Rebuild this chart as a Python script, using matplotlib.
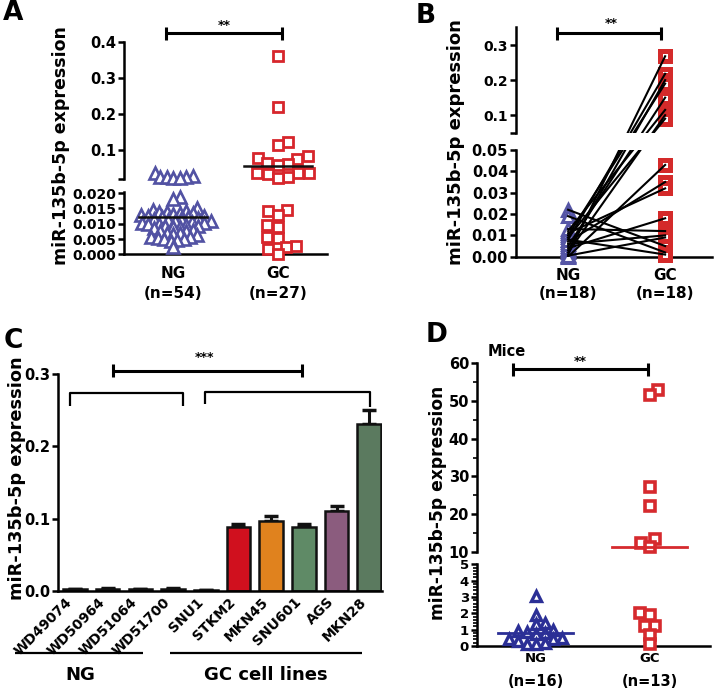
import numpy as np
import matplotlib
matplotlib.use("Agg")
import matplotlib.pyplot as plt
from matplotlib.lines import Line2D
from matplotlib.ticker import MultipleLocator

# ---------------- data ----------------
# Panel A (scatter, n=54 vs n=27)
a_ng = [0.037, 0.028, 0.026, 0.025, 0.024, 0.022, 0.022,
        0.0186, 0.0180,
        0.0151, 0.0146, 0.0143, 0.0140, 0.0139, 0.0136, 0.0134, 0.0131,
        0.0128, 0.0127, 0.0124, 0.0122, 0.0121, 0.0118, 0.0116, 0.0115, 0.0112, 0.0110, 0.0109, 0.0106,
        0.0104, 0.0103, 0.0100, 0.0098, 0.0097, 0.0094, 0.0092, 0.0091, 0.0088, 0.0085,
        0.0081, 0.0077, 0.0075, 0.0071, 0.0069, 0.0065, 0.0062,
        0.0058, 0.0056, 0.0052, 0.0050, 0.0049, 0.0046, 0.0044,
        0.0024]
a_gc = [0.359, 0.219, 0.123, 0.114, 0.082, 0.079, 0.076, 0.063, 0.061, 0.059,
        0.036, 0.034, 0.035, 0.037, 0.024, 0.022,
        0.0145, 0.0142, 0.0128, 0.0097, 0.0091, 0.0058, 0.0053, 0.0027, 0.0025, 0.0017, 0.0002]
a_xlabels = ["NG\n(n=54)", "GC\n(n=27)"]

# Panel B (paired samples, n=18)
b_ng = [0.001, 0.008, 0.003, 0.010, 0.005, 0.012, 0.002, 0.009, 0.000,
        0.007, 0.011, 0.004, 0.013, 0.006, 0.0005, 0.022, 0.019, 0.008]
b_gc = [0.268, 0.218, 0.200, 0.190, 0.150, 0.115, 0.100, 0.090, 0.043,
        0.035, 0.032, 0.018, 0.012, 0.010, 0.009, 0.005, 0.002, 0.001]
b_xlabels = ["NG\n(n=18)", "GC\n(n=18)"]

# Panel C (cell lines)
c_labels = ["WD49074", "WD50964", "WD51064", "WD51700", "SNU1",
            "STKM2", "MKN45", "SNU601", "AGS", "MKN28"]
c_vals = [0.002, 0.003, 0.002, 0.003, 0.001, 0.089, 0.096, 0.088, 0.111, 0.231]
c_err = [0.0005, 0.0005, 0.0005, 0.0005, 0.0003, 0.003, 0.007, 0.005, 0.007, 0.020]
c_colors = ["#111111"] * 5 + ["#d0101e", "#e0821e", "#5f8a66", "#8b5c7e", "#5b7a5f"]

# Panel D (mice)
d_ng = [3.05, 1.9, 1.4, 1.35, 1.0, 0.9, 0.85, 0.8, 0.75, 0.5, 0.45, 0.4, 0.3, 0.2, 0.1, 0.1]
d_gc = [53.0, 51.6, 27.3, 22.0, 13.3, 12.4, 11.2, 2.0, 1.9, 1.2, 1.2, 0.7, 0.1]
d_xlabels = ["NG\n(n=16)", "GC\n(n=13)"]

YLABEL = "miR-135b-5p expression"

# ---------------- style ----------------
W, H = 714, 692
plt.rcParams["font.family"] = ["DejaVu Sans"]
plt.rcParams["font.weight"] = "bold"
LW = 1.8
fig = plt.figure(figsize=(W / 100, H / 100), dpi=100)


def add_ax(x0, y0, x1, y1, bottom=True):
    ax = fig.add_axes([x0 / W, 1 - y1 / H, (x1 - x0) / W, (y1 - y0) / H])
    ax.patch.set_alpha(0)
    for s in ["top", "right"]:
        ax.spines[s].set_visible(False)
    ax.spines["left"].set_linewidth(LW)
    ax.spines["bottom"].set_linewidth(LW)
    if not bottom:
        ax.spines["bottom"].set_visible(False)
    ax.tick_params(axis="y", width=LW, length=4.5, pad=1)
    ax.tick_params(axis="x", bottom=False, labelbottom=False)
    return ax


def fline(xs, ys, lw=2.0):
    fig.add_artist(Line2D([x / W for x in xs], [1 - y / H for y in ys],
                          transform=fig.transFigure, color="black", lw=lw,
                          solid_capstyle="butt"))


def ftext(x, y, s, size, **kw):
    fig.text(x / W, 1 - y / H, s, fontsize=size, fontweight="bold",
             ha=kw.pop("ha", "center"), va=kw.pop("va", "center"), **kw)


def sigbar(x0, x1, y, h0, h1, star, sx, sy, size=9):
    fline([x0, x1], [y, y], lw=2.2)
    fline([x0, x0], [h0, h1], lw=2.2)
    fline([x1, x1], [h0, h1], lw=2.2)
    ftext(sx, sy, star, size)


def px_x(ax, x):
    return ax.transData.transform((x, 0))[0]


def swarm_plot(values, xc, ax_up, ax_lo, thr, d, **mk):
    """beeswarm-like placement computed in display pixels"""
    axes = [ax_up if v > thr else ax_lo for v in values]
    ys = np.array([a.transData.transform((xc, v))[1] for a, v in zip(axes, values)])
    offs = np.zeros(len(values))
    placed = []
    for n, i in enumerate(np.argsort(ys)):
        y = ys[i]
        k = 0
        sgn = 1 if n % 2 == 0 else -1
        while True:
            cands = [0.0] if k == 0 else [sgn * k * 0.5, -sgn * k * 0.5]
            found = None
            for c in cands:
                if all((c - px) ** 2 + (y - py) ** 2 >= d * d for px, py in placed):
                    found = c
                    break
            if found is not None:
                break
            k += 1
        offs[i] = found
        placed.append((found, y))
    for a in set(axes):
        ppu = px_x(a, 1) - px_x(a, 0)
        idx = [i for i, b in enumerate(axes) if b is a]
        a.plot([xc + offs[i] / ppu for i in idx], [values[i] for i in idx],
               ls="none", clip_on=False, zorder=3, **mk)


def xlabels(ax, labels, y1, y2, size1, size2):
    for x, lab in zip([1, 2], labels):
        top, bot = lab.split("\n")
        ftext(px_x(ax, x), y1, top, size1)
        ftext(px_x(ax, x), y2, bot, size2)


# ================= Panel A =================
A_BLUE, A_RED = "#5252a3", "#d7262c"
a_up = add_ax(124, 41.7, 327, 179.3, bottom=False)
a_lo = add_ax(124, 192, 327, 254.3)
for ax in (a_up, a_lo):
    ax.set_xlim(0.533, 2.467)
a_up.set_ylim(0.0188, 0.4)
a_lo.set_ylim(0, 0.0204)
a_up.set_yticks([0.0188, 0.1, 0.2, 0.3, 0.4])
a_up.set_yticklabels(["", "0.1", "0.2", "0.3", "0.4"], fontsize=10.5)
a_lo.set_yticks(np.arange(0, 0.0201, 0.005))
a_lo.set_yticklabels(["%.3f" % t for t in np.arange(0, 0.0201, 0.005)], fontsize=10)

swarm_plot(a_ng, 1, a_up, a_lo, 0.0204, 6.5, marker="^", ms=8.5, mfc="white",
           mec=A_BLUE, mew=1.9)
swarm_plot(a_gc, 2, a_up, a_lo, 0.0204, 10.5, marker="s", ms=7, mfc="white",
           mec=A_RED, mew=2.0)
for xc, vals in ((1, a_ng), (2, a_gc)):
    m = float(np.mean(vals))
    ax = a_up if m > 0.0204 else a_lo
    ax.plot([xc - 0.32, xc + 0.32], [m, m], color="#111111", lw=1.8, zorder=4)

xlabels(a_lo, a_xlabels, 273, 293, 11, 11)
ftext(61, 145.5, YLABEL, 12.5, rotation=90)
ftext(13, 13, "A", 19)
sigbar(166, 282, 33, 27, 40, "**", 224, 25)

# ================= Panel B =================
B_BLUE, B_RED = "#5656a6", "#d42a2a"
b_up = add_ax(515.7, 27.5, 711.7, 132.7, bottom=False)
b_lo = add_ax(515.7, 150, 711.7, 256.7)
for ax in (b_up, b_lo):
    ax.set_xlim(0.46, 2.48)
b_up.set_ylim(0.05, 0.35)
b_lo.set_ylim(0, 0.05)
b_up.set_yticks([0.05, 0.1, 0.2, 0.3])
b_up.set_yticklabels(["", "0.1", "0.2", "0.3"], fontsize=10)
b_lo.set_yticks(np.arange(0, 0.0501, 0.01))
b_lo.set_yticklabels(["%.2f" % t for t in np.arange(0, 0.0501, 0.01)], fontsize=10.5)

def b_disp(x, v):
    ax = b_up if v > 0.05 else b_lo
    return ax.transData.transform((x, v))

for ng, gc in zip(b_ng, b_gc):
    p0, p1 = b_disp(1, ng), b_disp(2, gc)
    for ax in (b_up, b_lo):
        inv = ax.transData.inverted()
        q0, q1 = inv.transform(p0), inv.transform(p1)
        ax.plot([q0[0], q1[0]], [q0[1], q1[1]], color="black", lw=1.5, zorder=4)
for v in b_ng:
    ax = b_up if v > 0.05 else b_lo
    ax.plot([1], [v], ls="none", marker="^", ms=8.5, mfc="white", mec=B_BLUE,
            mew=2.2, clip_on=False, zorder=3)
for v in b_gc:
    ax = b_up if v > 0.05 else b_lo
    ax.plot([2], [v], ls="none", marker="s", ms=7.5, mfc="white", mec=B_RED,
            mew=3.6, clip_on=False, zorder=3)

xlabels(b_lo, b_xlabels, 275, 293, 11, 11)
ftext(456, 142, YLABEL, 13, rotation=90)
ftext(426, 16, "B", 19)
sigbar(556.7, 661, 33, 27, 40, "**", 611.7, 24)

# ================= Panel C =================
c_ax = add_ax(58.3, 374.3, 382, 590.7)
c_ax.set_xlim(-0.51, 9.39)
c_ax.set_ylim(0, 0.3)
xs = np.arange(len(c_vals))
c_ax.bar(xs, c_vals, width=0.72, color=c_colors, edgecolor="#111111", linewidth=1.8, zorder=2)
c_ax.errorbar(xs, c_vals, yerr=[np.zeros(len(c_err)), c_err], fmt="none",
              ecolor="#111111", elinewidth=2.2, capsize=5, capthick=2.5, zorder=1)
c_ax.set_yticks([0, 0.1, 0.2, 0.3])
c_ax.set_yticklabels(["0.0", "0.1", "0.2", "0.3"], fontsize=10.5)
c_ax.set_xticks(xs)
c_ax.set_xticklabels(c_labels, rotation=45, ha="right", rotation_mode="default", fontsize=10)
c_ax.tick_params(axis="x", bottom=False, labelbottom=True, length=0, pad=3)

ftext(17, 478, YLABEL, 12.8, rotation=90)
ftext(13, 341, "C", 19)
sigbar(112.7, 301.7, 371, 364, 377, "***", 205, 357)
# group brackets
fline([70, 70, 183.5, 183.5], [406, 393.3, 393.3, 406], lw=1.6)
fline([204.7, 204.7, 370, 370], [404, 392, 392, 407], lw=1.6)
# group underline labels
fline([15, 143], [653, 653], lw=1.6)
fline([170, 362], [653, 653], lw=1.6)
ftext(80, 675, "NG", 13)
ftext(266, 675, "GC cell lines", 13)

# ================= Panel D =================
D_BLUE, D_RED = "#2b2f96", "#d62a2e"
d_up = add_ax(476.7, 363.3, 710, 551.7, bottom=False)
d_lo = add_ax(476.7, 564.3, 710, 646)
for ax in (d_up, d_lo):
    ax.set_xlim(0.48, 2.53)
d_up.set_ylim(10, 60)
d_lo.set_ylim(0, 5)
d_up.set_yticks(np.arange(10, 61, 10))
d_up.yaxis.set_minor_locator(MultipleLocator(5))
d_lo.set_yticks(np.arange(0, 6, 1))
d_lo.yaxis.set_minor_locator(MultipleLocator(0.2))
d_up.tick_params(axis="y", labelsize=10.5)
d_lo.tick_params(axis="y", labelsize=9.5)
for ax in (d_up, d_lo):
    ax.tick_params(axis="y", which="minor", width=1.2, length=3)

swarm_plot(d_ng, 1, d_up, d_lo, 7.5, 9.0, marker="^", ms=7.5, mfc="white",
           mec=D_BLUE, mew=2.4)
swarm_plot(d_gc, 2, d_up, d_lo, 7.5, 9.5, marker="s", ms=6.5, mfc="white",
           mec=D_RED, mew=2.6)
for xc, vals, col in ((1, d_ng, D_BLUE), (2, d_gc, D_RED)):
    m = float(np.median(vals))
    ax = d_up if m > 7.5 else d_lo
    ax.plot([xc - 0.33, xc + 0.33], [m, m], color=col, lw=2.0, zorder=4)

xlabels(d_lo, d_xlabels, 658, 682, 9.5, 10.5)
ftext(438, 503, YLABEL, 12.3, rotation=90)
ftext(437, 335, "D", 19)
ftext(507, 352, "Mice", 10.5)
sigbar(512.7, 648.3, 369.3, 363, 376, "**", 580, 362)

fig.savefig("out.png", dpi=100)
